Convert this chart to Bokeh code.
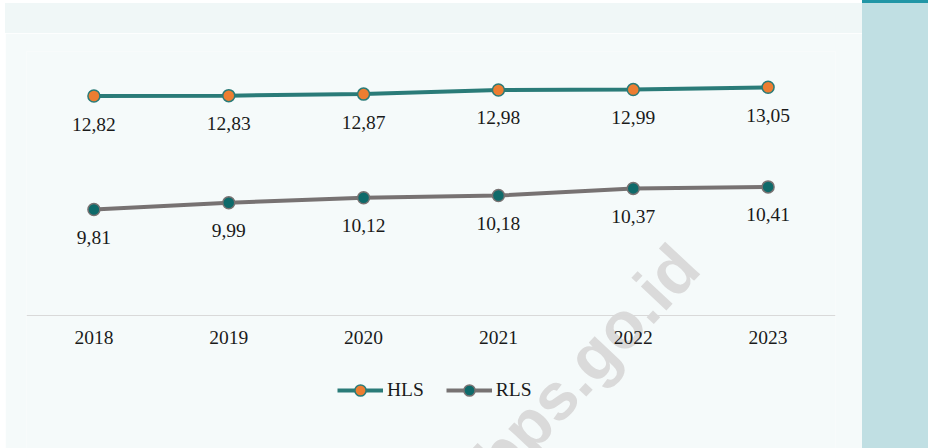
from bokeh.plotting import figure
from bokeh.layouts import row, column
from bokeh.models import (ColumnDataSource, FactorRange, Range1d, Legend, LegendItem,
                          Label, Div, Span)
from bokeh.core.properties import value
from bokeh.embed import file_html
from bokeh.resources import INLINE

# Data: school expectancy (HLS) and mean years of schooling (RLS)
years = ["2018", "2019", "2020", "2021", "2022", "2023"]
hls = [12.82, 12.83, 12.87, 12.98, 12.99, 13.05]
rls = [9.81, 9.99, 10.12, 10.18, 10.37, 10.41]

Y_BASE = 7      # value at the category axis line
Y_TOP = 14

SERIF = "Liberation Serif"
FONT_SIZE = "19.5px"
PANEL_BG = "#F5FAFA"
BAND_BG = "#F0F7F7"
TEXT = "#1a1a1a"

HLS_LINE = "#2A7B78"
HLS_FILL = "#ED7D31"
RLS_LINE = "#777272"
RLS_FILL = "#0E6A6A"

# plot geometry (pixels)
FIG_W, FIG_H = 857, 415
TOP_PAD = 18          # space above the value range top
AXIS_PX = 264         # pixel height between Y_BASE and Y_TOP
BELOW_PX = FIG_H - TOP_PAD - AXIS_PX   # area under the axis line (ticks, legend)


def fmt(v):
    return f"{v:.2f}".replace(".", ",")


src = ColumnDataSource(dict(
    year=years,
    hls=hls,
    rls=rls,
    hls_lbl=[fmt(v) for v in hls],
    rls_lbl=[fmt(v) for v in rls],
    base=[Y_BASE] * len(years),
))

px_per_unit = AXIS_PX / (Y_TOP - Y_BASE)
p = figure(
    width=FIG_W, height=FIG_H,
    x_range=FactorRange(*years, range_padding=0),
    y_range=Range1d(Y_BASE - BELOW_PX / px_per_unit, Y_TOP),
    toolbar_location=None, output_backend="svg",
    x_axis_location=None, y_axis_location=None,
    min_border_left=21, min_border_right=27,
    min_border_top=TOP_PAD, min_border_bottom=0,
    background_fill_color=PANEL_BG, border_fill_color=PANEL_BG,
    outline_line_color=None,
)
p.grid.visible = False

# Watermark, kept beneath everything else
p.add_layout(Label(
    x=560, y=86, x_units="screen", y_units="screen",
    text="bps.go.id", angle=47, angle_units="deg",
    text_font="Liberation Sans", text_font_style="bold",
    text_font_size="66px", text_color="#DADADA",
    text_align="center", text_baseline="alphabetic",
    level="underlay",
))

# Category axis: baseline and year labels
p.add_layout(Span(location=Y_BASE, dimension="width", line_color="#D9D9D9", line_width=1.2))
p.text("year", "base", text="year", source=src, y_offset=22,
       text_align="center", text_baseline="middle",
       text_font=value(SERIF), text_font_size=FONT_SIZE, text_color=TEXT)

l_hls = p.line("year", "hls", source=src, line_color=HLS_LINE, line_width=4)
s_hls = p.scatter("year", "hls", source=src, size=12, fill_color=HLS_FILL,
                  line_color=HLS_LINE, line_width=1.5)
l_rls = p.line("year", "rls", source=src, line_color=RLS_LINE, line_width=4)
s_rls = p.scatter("year", "rls", source=src, size=12, fill_color=RLS_FILL,
                  line_color=RLS_LINE, line_width=1.5)

for col, lbl in (("hls", "hls_lbl"), ("rls", "rls_lbl")):
    p.text("year", col, text=lbl, source=src, y_offset=28,
           text_align="center", text_baseline="middle",
           text_font=value(SERIF), text_font_size=FONT_SIZE, text_color=TEXT)

legend = Legend(
    items=[LegendItem(label="HLS", renderers=[l_hls, s_hls]),
           LegendItem(label="RLS", renderers=[l_rls, s_rls])],
    orientation="horizontal", location=(311, 44),
    glyph_width=46, glyph_height=28, label_standoff=4, spacing=22,
    label_text_font=SERIF, label_text_font_size=FONT_SIZE, label_text_color=TEXT,
    background_fill_alpha=0, border_line_color=None,
    margin=0, padding=0,
)
p.add_layout(legend, "center")

top_white = Div(width=FIG_W, height=3, margin=0, styles={"background-color": "#FFFFFF"})
band = Div(width=FIG_W, height=30, margin=0, styles={"background-color": BAND_BG})
left_white = Div(width=5, height=448, margin=0, styles={"background-color": "#FFFFFF"})
sidebar = Div(width=66, height=448, margin=0, styles={
    "background-color": "#C0DFE3",
    "border-top": "3px solid #2196A6",
    "box-sizing": "border-box",
})

layout = row(left_white, column(top_white, band, p, spacing=0), sidebar, spacing=0)

with open("out.html", "w") as f:
    f.write(file_html(layout, INLINE))
